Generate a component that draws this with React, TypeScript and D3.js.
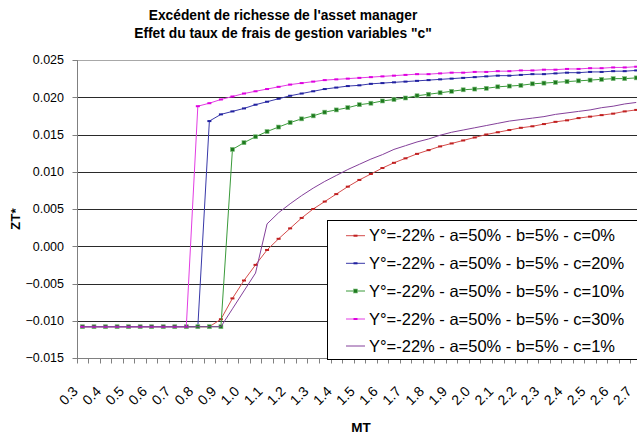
import React from "react";
import * as d3 from "d3";

const categories: number[] = [
  0.3, 0.35, 0.4, 0.45, 0.5, 0.55, 0.6, 0.65, 0.7, 0.75, 0.8, 0.85, 0.9, 0.95,
  1.0, 1.05, 1.1, 1.15, 1.2, 1.25, 1.3, 1.35, 1.4, 1.45, 1.5, 1.55, 1.6, 1.65,
  1.7, 1.75, 1.8, 1.85, 1.9, 1.95, 2.0, 2.05, 2.1, 2.15, 2.2, 2.25, 2.3, 2.35,
  2.4, 2.45, 2.5, 2.55, 2.6, 2.65, 2.7,
];

const yTicks: number[] = [-0.015, -0.01, -0.005, 0, 0.005, 0.01, 0.015, 0.02, 0.025];

const F = -0.0108;

const serieC0: number[] = [
  F, F, F, F, F, F, F, F, F, F, F, F,
  -0.0098, -0.007, -0.0046, -0.0025, -0.0005, 0.001, 0.0024, 0.0038, 0.005,
  0.006, 0.007, 0.008, 0.0089, 0.0097, 0.0105, 0.0112, 0.0118, 0.0124, 0.0129,
  0.0134, 0.0138, 0.0142, 0.0146, 0.015, 0.0153, 0.0156, 0.0159, 0.0161,
  0.0164, 0.0167, 0.0169, 0.0172, 0.0174, 0.0176, 0.0178, 0.0181, 0.0183,
];

const serieC20: number[] = [
  F, F, F, F, F, F, F, F, F, F, F,
  0.0168, 0.0177, 0.0181, 0.0185, 0.019, 0.0194, 0.0198, 0.0202, 0.0205,
  0.0208, 0.0211, 0.0213, 0.0215, 0.0216, 0.0218, 0.0219, 0.022, 0.0221,
  0.0222, 0.0223, 0.0224, 0.0225, 0.0226, 0.0227, 0.0228, 0.0229, 0.0229,
  0.023, 0.0231, 0.0231, 0.0232, 0.0233, 0.0233, 0.0234, 0.0234, 0.0235,
  0.0235, 0.0236,
];

const serieC10: number[] = [
  F, F, F, F, F, F, F, F, F, F, F, F, F,
  0.013, 0.0139, 0.0147, 0.0154, 0.016, 0.0166, 0.0171, 0.0175, 0.018,
  0.0183, 0.0186, 0.019, 0.0192, 0.0195, 0.0197, 0.0199, 0.0202, 0.0204,
  0.0206, 0.0208, 0.021, 0.0211, 0.0212, 0.0214, 0.0215, 0.0216, 0.0218,
  0.0219, 0.022, 0.0221, 0.0222, 0.0223, 0.0224, 0.0225, 0.0225, 0.0226,
];

const serieC30: number[] = [
  F, F, F, F, F, F, F, F, F, F,
  0.0188, 0.0192, 0.0197, 0.0201, 0.0205, 0.0208, 0.0211, 0.0214, 0.0217,
  0.0219, 0.0221, 0.0223, 0.0224, 0.0225, 0.0226, 0.0227, 0.0228, 0.0229,
  0.023, 0.0231, 0.0231, 0.0232, 0.0233, 0.0233, 0.0234, 0.0234, 0.0235,
  0.0235, 0.0236, 0.0236, 0.0237, 0.0237, 0.0238, 0.0238, 0.0239, 0.0239,
  0.024, 0.024, 0.0241,
];

const serieC1: number[] = [
  F, F, F, F, F, F, F, F, F, F, F, F, F,
  -0.0084, -0.006, -0.0036, 0.003, 0.0045, 0.0057, 0.0068, 0.0078, 0.0087,
  0.0095, 0.0103, 0.011, 0.0117, 0.0123, 0.013, 0.0135, 0.014, 0.0144,
  0.0149, 0.0153, 0.0156, 0.0159, 0.0162, 0.0165, 0.0168, 0.017, 0.0172,
  0.0174, 0.0177, 0.0179, 0.0181, 0.0183, 0.0186, 0.0188, 0.0191, 0.0193,
];

const seriesNames: string[] = [
  "Y°=-22% - a=50% - b=5% - c=0%",
  "Y°=-22% - a=50% - b=5% - c=20%",
  "Y°=-22% - a=50% - b=5% - c=10%",
  "Y°=-22% - a=50% - b=5% - c=30%",
  "Y°=-22% - a=50% - b=5% - c=1%",
];

const titleLines: string[] = [
  "Excédent de richesse de l'asset manager",
  'Effet du taux de frais de gestion variables "c"',
];

type Marker = "dash" | "square" | "none";
const seriesStyle: { color: string; marker: Marker; markerColor: string }[] = [
  { color: "#d44c4c", marker: "dash", markerColor: "#c02020" },
  { color: "#3838a8", marker: "dash", markerColor: "#2020a0" },
  { color: "#3a9a3a", marker: "square", markerColor: "#1e7a1e" },
  { color: "#e23ce2", marker: "dash", markerColor: "#e000e0" },
  { color: "#84409a", marker: "none", markerColor: "#84409a" },
];

const FONT = "'Liberation Sans', Arial, sans-serif";

export default function App() {
  const W = 637;
  const H = 439;
  const left = 76.7;
  const right = 642;
  const top = 60;
  const bottom = 358;

  const x = d3
    .scaleBand<string>()
    .domain(categories.map((c) => c.toFixed(2)))
    .range([left, right])
    .padding(0);
  const bw = x.bandwidth();
  const cx = (i: number) => (x(categories[i].toFixed(2)) as number) + bw / 2;
  const y = d3.scaleLinear().domain([-0.015, 0.025]).range([bottom, top]);

  const allSeries = [serieC0, serieC20, serieC10, serieC30, serieC1];
  const line = d3
    .line<number>()
    .x((_, i) => cx(i))
    .y((d) => y(d));

  const fmtY = d3.format(".3f");
  const fmtX = d3.format(".1f");
  const crisp = (v: number) => Math.round(v) + 0.5;

  const drawMarker = (m: Marker, color: string, px: number, py: number, key: string) => {
    if (m === "dash") {
      return <rect key={key} x={px - 2} y={py - 1} width={4} height={2} fill={color} />;
    }
    if (m === "square") {
      return (
        <rect key={key} x={px - 2} y={py - 2} width={4} height={4} fill={color} stroke="#7fbf7f" strokeWidth={0.6} />
      );
    }
    return null;
  };

  const legendX = 327;
  const legendY = 220;
  const legendRows = [235.7, 263.3, 291, 319, 346];

  return (
    <svg
      width={W}
      height={H}
      style={{ position: "absolute", left: 0, top: 0, background: "#fff" }}
      fontFamily={FONT}
    >
      <rect x={0} y={0} width={W} height={H} fill="#fff" />
      {titleLines.map((t, i) => (
        <text key={t} x={283} y={19.5 + i * 18.5} textAnchor="middle" fontSize={13.8} fontWeight="bold" fill="#000">
          {t}
        </text>
      ))}

      {/* gridlines */}
      {yTicks.map((t) => (
        <line
          key={"g" + t}
          x1={left}
          x2={right}
          y1={crisp(y(t))}
          y2={crisp(y(t))}
          stroke={t === 0.025 ? "#a8a8a8" : t === -0.015 ? "none" : "#2a2a2a"}
          strokeWidth={1}
        />
      ))}

      {/* axes */}
      <line x1={crisp(left)} x2={crisp(left)} y1={top} y2={crisp(bottom)} stroke="#808080" />
      <line x1={left} x2={right} y1={crisp(bottom)} y2={crisp(bottom)} stroke="#808080" />
      {yTicks.map((t) => (
        <g key={"yt" + t}>
          <line x1={crisp(left) - 5} x2={crisp(left)} y1={crisp(y(t))} y2={crisp(y(t))} stroke="#808080" />
          <text x={64} y={y(t)} dy="0.35em" textAnchor="end" fontSize={12.5} fill="#000">
            {fmtY(t)}
          </text>
        </g>
      ))}
      {categories.map((c, i) => (
        <line
          key={"xt" + i}
          x1={crisp(x(c.toFixed(2)) as number)}
          x2={crisp(x(c.toFixed(2)) as number)}
          y1={crisp(bottom)}
          y2={crisp(bottom) + 5}
          stroke="#808080"
        />
      ))}
      {categories.map((c, i) =>
        i % 2 === 0 ? (
          <text
            key={"xl" + i}
            transform={`translate(${cx(i) - 3.6},${392.2}) rotate(-45)`}
            textAnchor="end"
            fontSize={14}
            fill="#000"
          >
            {fmtX(c)}
          </text>
        ) : null
      )}

      {/* series */}
      {allSeries.map((s, k) => (
        <g key={"s" + k}>
          <path d={line(s) || ""} fill="none" stroke={seriesStyle[k].color} strokeWidth={1} />
          {s.map((v, i) => drawMarker(seriesStyle[k].marker, seriesStyle[k].markerColor, cx(i), y(v), `m${k}-${i}`))}
        </g>
      ))}

      {/* axis titles */}
      <text transform="translate(19.5,219) rotate(-90)" textAnchor="middle" fontSize={13.5} fontWeight="bold" fill="#000">
        ZT*
      </text>
      <text x={361} y={431.5} textAnchor="middle" fontSize={13.5} fontWeight="bold" fill="#000">
        MT
      </text>

      {/* legend */}
      <rect x={legendX + 0.5} y={legendY + 0.5} width={330} height={139} fill="#fff" stroke="#000" strokeWidth={1} />
      {seriesNames.map((n, k) => (
        <g key={"l" + k}>
          <line x1={346} x2={365} y1={legendRows[k]} y2={legendRows[k]} stroke={seriesStyle[k].color} strokeWidth={1} />
          {drawMarker(seriesStyle[k].marker, seriesStyle[k].markerColor, 355.5, legendRows[k], "lm" + k)}
          <text x={369} y={legendRows[k]} dy="0.35em" fontSize={16.5} fill="#000">
            {n}
          </text>
        </g>
      ))}
    </svg>
  );
}
